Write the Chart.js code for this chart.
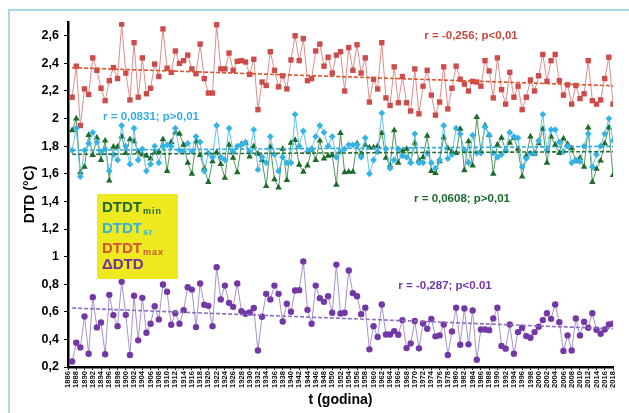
<!DOCTYPE html>
<html>
<head>
<meta charset="utf-8">
<script src="https://cdn.jsdelivr.net/npm/chart.js@4.4.1/dist/chart.umd.min.js"></script>
<style>
  html, body { margin: 0; padding: 0; background: #fff; }
  #chart { display: block; }
</style>
</head>
<body>
<canvas id="chart" width="629" height="413"></canvas>
<script>
// yearly series, 1887 - 2018
const firstYear = 1887;

const dtdtMax = [
  2.155, 2.38, 1.95, 2.215, 2.175, 2.44, 2.35, 2.22, 2.13, 2.275, 2.37, 2.29,
  2.685, 2.33, 2.135, 2.55, 2.155, 2.44, 2.18, 2.22, 2.395, 2.305, 2.65, 2.365,
  2.335, 2.49, 2.40, 2.42, 2.46, 2.36, 2.325, 2.54, 2.29, 2.185, 2.185, 2.68,
  2.36, 2.36, 2.475, 2.35, 2.415, 2.42, 2.41, 2.32, 2.43, 2.065, 2.265, 2.24,
  2.485, 2.35, 2.23, 2.31, 2.215, 2.425, 2.60, 2.42, 2.58, 2.275, 2.29, 2.49,
  2.54, 2.38, 2.445, 2.33, 2.46, 2.485, 2.20, 2.515, 2.35, 2.535, 2.33, 2.44,
  2.12, 2.285, 2.215, 2.55, 2.15, 2.095, 2.375, 2.115, 2.305, 2.115, 2.055, 2.36,
  2.035, 2.235, 2.35, 2.17, 2.025, 2.12, 2.375, 2.07, 2.22, 2.38, 2.285, 2.25,
  2.20, 2.27, 2.265, 2.235, 2.42, 2.345, 2.15, 2.44, 2.21, 2.105, 2.335, 2.155,
  2.235, 2.065, 2.155, 2.28, 2.20, 2.31, 2.465, 2.27, 2.42, 2.465, 2.275, 2.17,
  2.245, 2.105, 2.24, 2.145, 2.18, 2.42, 2.13, 2.105, 2.135, 2.29, 2.445, 2.105
];

const dtdtSr = [
  1.77, 1.93, 1.58, 1.77, 1.82, 1.90, 1.83, 1.76, 1.78, 1.62, 1.74, 1.70,
  1.95, 1.80, 1.67, 1.93, 1.70, 1.78, 1.62, 1.67, 1.80, 1.68, 1.80, 1.81,
  1.80, 1.93, 1.77, 1.76, 1.82, 1.76, 1.87, 1.83, 1.62, 1.75, 1.72, 1.95,
  1.72, 1.70, 1.93, 1.76, 1.80, 1.81, 1.83, 1.76, 1.92, 1.63, 1.72, 1.68,
  1.87, 1.74, 1.62, 1.72, 1.68, 1.68, 2.03, 1.80, 1.91, 1.76, 1.78, 1.87,
  1.95, 1.90, 1.80, 1.87, 1.72, 1.76, 1.78, 1.81, 1.81, 1.81, 1.72, 1.86,
  1.60, 1.70, 1.76, 2.04, 1.78, 1.64, 1.70, 1.78, 1.73, 1.72, 1.68, 1.89,
  1.68, 1.68, 1.75, 1.68, 1.64, 1.70, 1.95, 1.71, 1.74, 1.93, 1.89, 1.77,
  1.68, 1.88, 1.75, 1.75, 1.94, 1.88, 1.75, 1.72, 1.74, 1.77, 1.90, 1.87,
  1.86, 1.65, 1.71, 1.75, 1.75, 1.84, 2.03, 1.77, 1.92, 1.92, 1.83, 1.76,
  1.80, 1.68, 1.70, 1.69, 1.80, 1.89, 1.65, 1.74, 1.80, 1.89, 2.00, 1.84
];

const dtdtMin = [
  1.915, 2.00, 1.61, 1.65, 1.88, 1.735, 1.86, 1.70, 1.84, 1.55, 1.795, 1.795,
  1.87, 1.75, 1.85, 1.835, 1.76, 1.74, 1.73, 1.71, 1.755, 1.76, 1.85, 1.62,
  1.83, 1.90, 1.89, 1.81, 1.68, 1.60, 1.835, 1.735, 1.64, 1.54, 1.69, 1.755,
  1.67, 1.57, 1.81, 1.715, 1.61, 1.815, 1.825, 1.725, 1.80, 1.745, 1.70, 1.51,
  1.795, 1.56, 1.50, 1.78, 1.555, 1.825, 1.845, 1.665, 1.615, 1.66, 1.775, 1.70,
  1.84, 1.71, 1.73, 1.735, 1.52, 1.895, 1.61, 1.615, 1.615, 1.82, 1.745, 1.81,
  1.79, 1.79, 1.80, 1.895, 1.715, 1.66, 1.915, 1.68, 1.765, 1.78, 1.685, 1.825,
  1.70, 1.72, 1.875, 1.62, 1.605, 1.69, 1.865, 1.785, 1.76, 1.75, 1.925, 1.625,
  1.835, 1.66, 2.01, 1.765, 1.95, 1.88, 1.60, 1.81, 1.86, 1.77, 1.825, 1.86,
  1.78, 1.58, 1.73, 1.87, 1.745, 1.82, 1.925, 1.68, 1.87, 1.81, 1.75, 1.855,
  1.815, 1.785, 1.69, 1.715, 1.65, 1.935, 1.54, 1.635, 1.695, 1.82, 1.935, 1.59
];

const deltaDtd = [
  0.24, 0.376, 0.342, 0.566, 0.296, 0.706, 0.487, 0.523, 0.292, 0.723, 0.576, 0.496,
  0.817, 0.578, 0.287, 0.716, 0.393, 0.701, 0.448, 0.513, 0.641, 0.545, 0.798, 0.745,
  0.506, 0.59, 0.513, 0.612, 0.778, 0.761, 0.489, 0.805, 0.651, 0.643, 0.496, 0.923,
  0.689, 0.79, 0.665, 0.636, 0.805, 0.605, 0.586, 0.595, 0.627, 0.32, 0.564, 0.73,
  0.689, 0.79, 0.73, 0.53, 0.658, 0.60, 0.754, 0.757, 0.964, 0.614, 0.513, 0.79,
  0.699, 0.672, 0.713, 0.593, 0.942, 0.588, 0.593, 0.899, 0.735, 0.713, 0.583, 0.629,
  0.328, 0.496, 0.417, 0.653, 0.436, 0.436, 0.46, 0.434, 0.54, 0.337, 0.371, 0.533,
  0.335, 0.516, 0.477, 0.549, 0.422, 0.429, 0.508, 0.287, 0.458, 0.629, 0.361, 0.624,
  0.364, 0.61, 0.253, 0.472, 0.472, 0.467, 0.552, 0.629, 0.352, 0.333, 0.508, 0.296,
  0.453, 0.484, 0.424, 0.412, 0.453, 0.492, 0.54, 0.59, 0.549, 0.653, 0.525, 0.316,
  0.429, 0.32, 0.552, 0.429, 0.528, 0.484, 0.59, 0.47, 0.441, 0.472, 0.508, 0.513
];

const years = dtdtMax.map((_, i) => firstYear + i);

// axis ticks
const xTicks = [];
for (let y = 1886; y <= 2018; y += 2) xTicks.push(y);
const yTicks = [0.2, 0.4, 0.6, 0.8, 1.0, 1.2, 1.4, 1.6, 1.8, 2.0, 2.2, 2.4, 2.6];

// legend rows and correlation notes
const legendRows = [
  { text: "DTDT", sub: "min", color: "#1b6b2c" },
  { text: "DTDT", sub: "sr", color: "#2fb1e5" },
  { text: "DTDT", sub: "max", color: "#d2503f" },
  { text: "\u0394DTD", sub: "", color: "#7030a0" }
];
const corrNotes = [
  { text: "r = -0,256; p<0,01", color: "#c9473f" },
  { text: "r = 0,0831; p>0,01", color: "#34ace0" },
  { text: "r = 0,0608; p>0,01", color: "#1b6b2c" },
  { text: "r = -0,287; p<0.01", color: "#7436a6" }
];

const FONT = "Arial, 'Liberation Sans', sans-serif";

function toPoints(values) {
  return values.map((v, i) => ({ x: years[i], y: v }));
}

// least squares line over the series, returned as its two end points
function trendEnds(values) {
  const n = values.length;
  const mx = (n - 1) / 2;
  const my = values.reduce((a, b) => a + b, 0) / n;
  let sxy = 0;
  let sxx = 0;
  values.forEach((v, i) => {
    sxy += (i - mx) * (v - my);
    sxx += (i - mx) * (i - mx);
  });
  const b = sxy / sxx;
  return [{ x: years[0], y: my - b * mx }, { x: years[n - 1], y: my + b * mx }];
}

function trendSet(values, color) {
  return {
    data: trendEnds(values),
    borderColor: color,
    borderWidth: 1.6,
    borderDash: [4, 2],
    pointRadius: 0
  };
}

function seriesSet(values, lineColor, markColor, style, radius) {
  return {
    data: toPoints(values),
    borderColor: lineColor,
    borderWidth: 1,
    pointStyle: style,
    pointRadius: radius,
    pointBackgroundColor: markColor,
    pointBorderColor: markColor,
    pointBorderWidth: 0,
    tension: 0
  };
}

const notePos = [[471, 39], [151, 120], [462, 202], [445, 289]];

const chartNotes = {
  id: "chartNotes",
  beforeDraw(chart) {
    const ctx = chart.ctx;
    ctx.save();
    ctx.fillStyle = "#fff";
    ctx.fillRect(0, 0, chart.width, chart.height);
    ctx.strokeStyle = "#a9dbe4";
    ctx.lineWidth = 2;
    ctx.beginPath();
    ctx.moveTo(9, chart.height);
    ctx.lineTo(9, 10);
    ctx.lineTo(chart.width, 10);
    ctx.stroke();
    ctx.restore();
  },
  afterDatasetsDraw(chart) {
    const ctx = chart.ctx;
    ctx.save();

    // legend box
    ctx.fillStyle = "#eeea1f";
    ctx.fillRect(97, 194, 81, 85);
    const baselines = [212, 233, 253, 269];
    legendRows.forEach((row, i) => {
      ctx.fillStyle = row.color;
      ctx.font = "bold 15px " + FONT;
      ctx.textAlign = "left";
      ctx.textBaseline = "alphabetic";
      ctx.fillText(row.text, 102, baselines[i]);
      if (row.sub) {
        const w = ctx.measureText(row.text).width;
        ctx.font = "bold 9px " + FONT;
        ctx.letterSpacing = "1px";
        ctx.fillText(row.sub, 102 + w + 1, baselines[i] + 2);
        ctx.letterSpacing = "0px";
      }
    });

    // correlation notes
    ctx.font = "bold 11.5px " + FONT;
    ctx.textAlign = "center";
    corrNotes.forEach((note, i) => {
      ctx.fillStyle = note.color;
      ctx.fillText(note.text, notePos[i][0], notePos[i][1]);
    });
    ctx.restore();
  }
};

new Chart(document.getElementById("chart"), {
  type: "line",
  data: {
    datasets: [
      trendSet(dtdtMax, "#e0522a"),
      trendSet(dtdtSr, "#2ea9e0"),
      trendSet(dtdtMin, "#2a6e38"),
      trendSet(deltaDtd, "#8c6dbf"),
      seriesSet(dtdtSr, "#62c3ea", "#33b4e6", "rectRot", 3.4),
      seriesSet(dtdtMin, "#4f9a5e", "#1d6a2b", "triangle", 3.8),
      seriesSet(dtdtMax, "#de8e8c", "#cd4b49", "rect", 3.8),
      seriesSet(deltaDtd, "#a793cc", "#7438a6", "circle", 3.2)
    ]
  },
  options: {
    responsive: false,
    animation: false,
    devicePixelRatio: 1,
    layout: { padding: { left: 0, right: 16, top: 22, bottom: 0 } },
    plugins: {
      legend: { display: false },
      tooltip: { enabled: false }
    },
    scales: {
      x: {
        type: "linear",
        min: 1886,
        max: 2018,
        afterFit: (s) => { s.height = 46; },
        afterBuildTicks: (s) => { s.ticks = xTicks.map((v) => ({ value: v })); },
        ticks: {
          autoSkip: false,
          minRotation: 90,
          maxRotation: 90,
          padding: 1,
          color: "#111",
          font: { family: FONT, size: 7.6, weight: "bold" },
          callback: (v) => String(v)
        },
        grid: { drawOnChartArea: false, tickLength: 3, color: "#000" },
        border: { color: "#000", width: 2.5 },
        title: {
          display: true,
          text: "t (godina)",
          color: "#000",
          font: { family: FONT, size: 14, weight: "bold" },
          padding: { top: 0, bottom: 4 }
        }
      },
      y: {
        min: 0.2,
        max: 2.7,
        afterFit: (s) => { s.width = 68; },
        afterBuildTicks: (s) => { s.ticks = yTicks.map((v) => ({ value: v })); },
        ticks: {
          padding: 5,
          color: "#000",
          font: { family: FONT, size: 12.5, weight: "bold" },
          callback: (v) => String(Math.round(v * 10) / 10).replace(".", ",")
        },
        grid: { drawOnChartArea: false, tickLength: 4, color: "#000" },
        border: { color: "#000", width: 2.5 },
        title: {
          display: true,
          text: "DTD (\u00b0C)",
          color: "#000",
          font: { family: FONT, size: 14, weight: "bold" },
          padding: { top: 22, bottom: 0 }
        }
      }
    }
  },
  plugins: [chartNotes]
});
</script>
</body>
</html>
